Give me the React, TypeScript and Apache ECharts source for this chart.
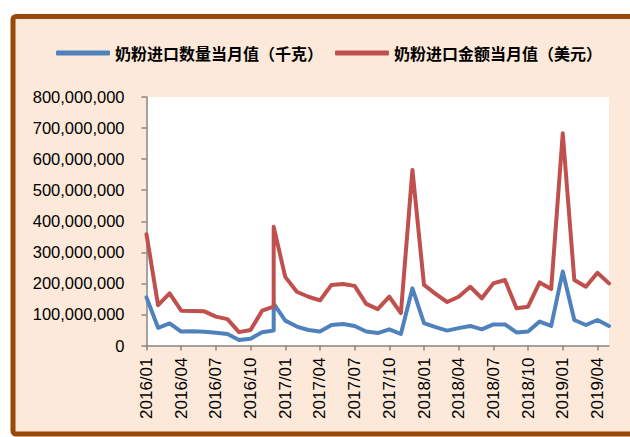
import React, { useEffect, useRef } from "react";
import * as echarts from "echarts";

const periods = [
  "2016/01", "2016/02", "2016/03", "2016/04", "2016/05", "2016/06", "2016/07", "2016/08", "2016/09", "2016/10", "2016/11", "2016/12", "2016/12",
  "2017/01", "2017/02", "2017/03", "2017/04", "2017/05", "2017/06", "2017/07", "2017/08", "2017/09", "2017/10", "2017/11", "2017/12",
  "2018/01", "2018/02", "2018/03", "2018/04", "2018/05", "2018/06", "2018/07", "2018/08", "2018/09", "2018/10", "2018/11", "2018/12",
  "2019/01", "2019/02", "2019/03", "2019/04", "2019/05",
];

const quantityKg = [
  155e6, 57e6, 71e6, 45e6, 46e6, 44e6, 41e6, 37e6, 18e6, 22e6, 43e6, 48e6, 135e6,
  80e6, 61e6, 50e6, 45e6, 66e6, 69e6, 63e6, 45e6, 40e6, 52e6, 37e6, 184e6,
  72e6, 59e6, 48e6, 56e6, 63e6, 52e6, 68e6, 68e6, 42e6, 45e6, 77e6, 63e6,
  238e6, 82e6, 66e6, 82e6, 63e6,
];

const amountUsd = [
  358e6, 130e6, 168e6, 112e6, 111e6, 110e6, 93e6, 85e6, 43e6, 50e6, 112e6, 125e6, 382e6,
  221e6, 173e6, 157e6, 145e6, 195e6, 198e6, 192e6, 134e6, 117e6, 157e6, 104e6, 565e6,
  195e6, 166e6, 140e6, 157e6, 189e6, 152e6, 200e6, 211e6, 120e6, 125e6, 203e6, 182e6,
  683e6, 211e6, 189e6, 234e6, 200e6,
];

const seriesNames = ["奶粉进口数量当月值（千克）", "奶粉进口金额当月值（美元）"];
const yTicks = [0, 100e6, 200e6, 300e6, 400e6, 500e6, 600e6, 700e6, 800e6];

const months = periods.filter((p, i) => periods.indexOf(p) === i);
const labelIdx = months.map((_, i) => i).filter((i) => i % 3 === 0);

export default function App() {
  const ref = useRef<HTMLDivElement>(null);
  useEffect(() => {
    if (!ref.current) return;
    const chart = echarts.init(ref.current, null, { renderer: "svg" });
    const toPairs = (vals: number[]) => periods.map((p, i) => [months.indexOf(p), vals[i]]);
    chart.setOption({
      animation: false,
      backgroundColor: "#ffffff",
      graphic: {
        elements: [
          {
            type: "rect",
            z: -10,
            shape: { x: 13, y: 16.5, width: 650, height: 417.5, r: 3 },
            style: { fill: "#FDE9D9", stroke: "#984807", lineWidth: 5 },
            silent: true,
          },
        ],
      },
      legend: {
        top: 40,
        left: 51,
        itemWidth: 54,
        itemHeight: 5,
        itemGap: 12,
        icon: "roundRect",
        textStyle: { fontFamily: "Noto Sans CJK SC", fontWeight: "bold", fontSize: 16, color: "#000" },
        data: seriesNames,
      },
      grid: {
        left: 146.5,
        right: 21,
        top: 97,
        bottom: 91.5,
        show: true,
        backgroundColor: "#ffffff",
        borderWidth: 0,
      },
      xAxis: {
        type: "value",
        min: 0,
        max: months.length - 1,
        interval: 3,
        splitLine: { show: false },
        axisLine: { show: true, lineStyle: { color: "#868686", width: 1.5 } },
        axisTick: { show: true, length: 5, lineStyle: { color: "#868686", width: 1.5 }, customValues: labelIdx },
        axisLabel: {
          fontFamily: "Liberation Sans",
          fontSize: 17,
          color: "#000",
          rotate: 90,
          margin: 12,
          customValues: labelIdx,
          formatter: (v: number) => months[Math.round(v)] ?? "",
        },
      },
      yAxis: {
        type: "value",
        min: yTicks[0],
        max: yTicks[yTicks.length - 1],
        interval: yTicks[1] - yTicks[0],
        splitLine: { show: false },
        axisLine: { show: true, lineStyle: { color: "#868686", width: 1.5 } },
        axisTick: { show: true, length: 5, lineStyle: { color: "#868686", width: 1.5 } },
        axisLabel: {
          fontFamily: "Liberation Sans",
          fontSize: 16.5,
          color: "#000",
          margin: 22,
          formatter: (v: number) => v.toLocaleString("en-US"),
        },
      },
      series: [
        {
          name: seriesNames[0],
          type: "line",
          data: toPairs(quantityKg),
          showSymbol: false,
          symbol: "none",
          color: "#4F81BD",
          lineStyle: { color: "#4F81BD", width: 4, cap: "round", join: "round" },
        },
        {
          name: seriesNames[1],
          type: "line",
          data: toPairs(amountUsd),
          showSymbol: false,
          symbol: "none",
          color: "#C0504D",
          lineStyle: { color: "#C0504D", width: 4, cap: "round", join: "round" },
        },
      ],
    });
    return () => chart.dispose();
  }, []);
  return <div ref={ref} style={{ position: "fixed", left: 0, top: 0, width: 630, height: 437 }} />;
}
